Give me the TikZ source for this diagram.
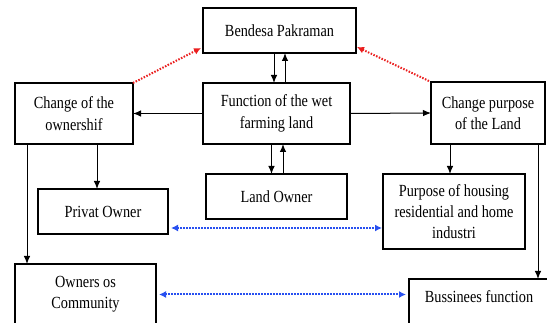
\documentclass[tikz,border=0pt]{standalone}
\usepackage{fontspec}
\setmainfont[FakeStretch=0.84]{Liberation Serif}
\usetikzlibrary{arrows.meta}
\definecolor{redd}{RGB}{235,30,30}
\definecolor{blued}{RGB}{40,80,240}
\begin{document}
\begin{tikzpicture}[x=1pt,y=-1pt,
 box/.style={draw, line width=1.2pt, inner sep=0pt, outer sep=0pt, align=center, font=\fontsize{17}{21.3}\selectfont},
 txt/.style={inner sep=0pt, font=\fontsize{17}{21.3}\selectfont},
 arr/.style={line width=1pt, -{Latex[length=8pt,width=6.5pt]}},
 reddot/.style={redd, line width=2pt, dash pattern=on 1.5pt off 1.5pt, -{Latex[length=7pt,width=7pt]}},
 bluedot/.style={blued, line width=2pt, dash pattern=on 1.5pt off 1.5pt, {Latex[length=7pt,width=7pt]}-{Latex[length=7pt,width=7pt]}},
]
\useasboundingbox (0,0) rectangle (547,323);
\clip (0,0) rectangle (547,323);
\fill[white] (0,0) rectangle (547,323);
% boxes
\node[box, minimum width=153pt, minimum height=45pt] (bp) at (279.5,30.5) {Bendesa Pakraman};
\node[box, minimum width=147pt, minimum height=61pt] (fn) at (276.5,113.5) {Function of the wet\\farming land};
\node[box, minimum width=118pt, minimum height=61pt] (co) at (74,113.5) {Change of the\\ownershif};
\node[box, minimum width=114pt, minimum height=62pt] (cp) at (488,113) {Change purpose\\of the Land};
\node[box, minimum width=141pt, minimum height=45pt] (lo) at (276.5,196.5) {Land Owner};
\node[box, minimum width=130pt, minimum height=45pt] (po) at (103,211.5) {Privat Owner};
\node[box, minimum width=142pt, minimum height=75pt] (ph) at (454,211.5) {Purpose of housing\\residential and home\\industri};
\node[box, minimum width=141pt, minimum height=61pt] (oc) at (85.5,294.5) {Owners os\\Community};
\node[box, minimum width=160pt, minimum height=60pt, anchor=north west] (bus) at (409,279) {};
\node[txt] (bust) at (479,297) {Bussinees function};
% black arrows
\draw[arr] ([xshift=-2.5pt]fn.north |- bp.south) -- ([xshift=-2.5pt]fn.north);
\draw[arr] ([xshift=8.5pt]fn.north) -- ([xshift=8.5pt]fn.north |- bp.south);
\draw[arr] ([xshift=-5pt]fn.south) -- ([xshift=-5pt]fn.south |- lo.north);
\draw[arr] ([xshift=6.5pt]lo.north) -- ([xshift=6.5pt]lo.north |- fn.south);
\draw[arr] (fn.west) -- (co.east);
\draw[arr] (fn.east) -- (cp.west);
\draw[arr] ([xshift=-47pt]co.south) -- ([xshift=-47pt]co.south |- oc.north);
\draw[arr] ([xshift=23pt]co.south) -- ([xshift=23pt]co.south |- po.north);
\draw[arr] ([xshift=-38pt]cp.south) -- ([xshift=-38pt]cp.south |- ph.north);
\draw[arr] ([xshift=50pt]cp.south) -- ([xshift=50pt]cp.south |- bus.north);
% red dotted
\draw[reddot] (co.north east) -- ([xshift=-2pt,yshift=5pt]bp.south west);
\draw[reddot] ([xshift=-2pt,yshift=1pt]cp.north west) -- ([xshift=1pt,yshift=6pt]bp.south east);
% blue dotted
\draw[bluedot, shorten <=3pt, shorten >=1pt] ([yshift=-16.5pt]po.east) -- ([yshift=-16.5pt]ph.west);
\draw[bluedot, shorten <=3pt, shorten >=3pt] (oc.east) -- (oc.east -| bus.west);
\end{tikzpicture}
\end{document}
